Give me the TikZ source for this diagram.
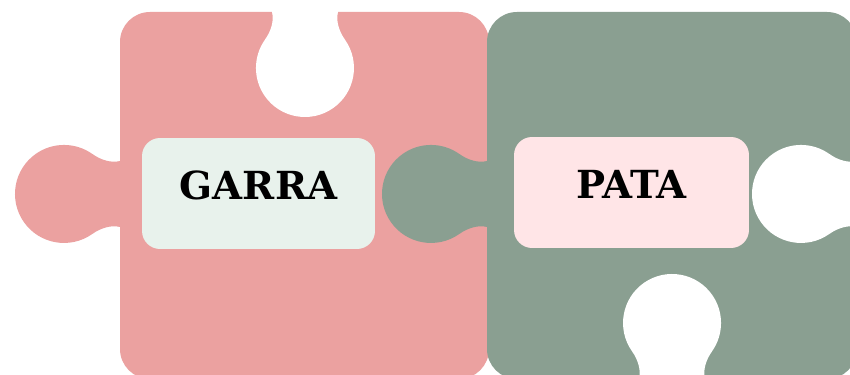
\documentclass[tikz,border=0pt]{standalone}
\usepackage{fontspec}
\newfontfamily\puzzlefont{DejaVu Serif}
\definecolor{pinkpiece}{RGB}{235,161,160}
\definecolor{greenpiece}{RGB}{138,159,145}
\definecolor{mintbox}{RGB}{232,242,236}
\definecolor{rosebox}{RGB}{255,229,231}
\tikzset{
  pics/knob/.style={code={
    \fill[#1] (-33,-5) -- (-33,0) .. controls (-31,8) and (-33.2,18.1) .. (-40.1,27.9)
      arc[start angle=215,end angle=-35,radius=49]
      .. controls (33.2,18.1) and (31,8) .. (33,0) -- (33,-5) -- cycle;
  }},
  labelbox/.style={rounded corners=0.36cm, inner sep=0pt, minimum height=2.22cm,
    text depth=9pt, font=\puzzlefont\bfseries\fontsize{22}{26}\selectfont}
}
\begin{document}
\begin{tikzpicture}[x=0.02cm,y=0.02cm]
\fill[white] (0,0) rectangle (850,375);
\useasboundingbox (0,0) rectangle (850,375);
\fill[pinkpiece, rounded corners=0.6cm] (120,-4) rectangle (489,363);
\pic[shift={(120,181)},rotate=90] {knob=pinkpiece};
\pic[shift={(305,363)},rotate=180] {knob=white};
\fill[greenpiece, rounded corners=0.6cm] (487,-4) rectangle (857,363);
\pic[shift={(487,181)},rotate=90] {knob=greenpiece};
\pic[shift={(857,181)},rotate=90] {knob=white};
\pic[shift={(672,-4)}] {knob=white};
\node[labelbox, fill=mintbox, minimum width=4.66cm] (garra) at (258.5,181.5) {GARRA};
\node[labelbox, fill=rosebox, minimum width=4.7cm] (pata) at (631.5,182.5) {PATA};
\end{tikzpicture}
\end{document}
